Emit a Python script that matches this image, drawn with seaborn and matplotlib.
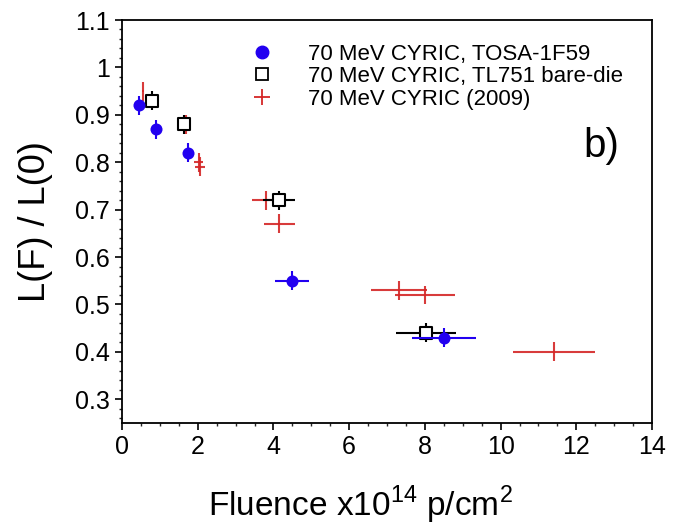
import matplotlib
matplotlib.use("Agg")
import matplotlib.pyplot as plt
from matplotlib.lines import Line2D
from matplotlib.ticker import MultipleLocator
import seaborn as sns
import pandas as pd

# TOSA-1F59 (blue circles)
tosa_x = [0.45, 0.90, 1.74, 4.49, 8.50]
tosa_y = [0.92, 0.87, 0.82, 0.55, 0.43]
tosa_xerr = [0.05, 0.05, 0.05, 0.44, 0.85]
tosa_yerr = [0.02, 0.02, 0.02, 0.02, 0.02]

# TL751 bare-die (open squares)
tl_x = [0.79, 1.64, 4.15, 8.03]
tl_y = [0.93, 0.88, 0.72, 0.44]
tl_xerr = [0.05, 0.05, 0.42, 0.80]
tl_yerr = [0.02, 0.02, 0.02, 0.02]

# 2009 (red crosses)
r09_x = [0.55, 1.69, 2.03, 2.06, 3.80, 4.15, 7.32, 8.00, 11.41]
r09_y = [0.95, 0.88, 0.80, 0.79, 0.72, 0.67, 0.53, 0.52, 0.40]
r09_xerr = [0.03, 0.10, 0.12, 0.12, 0.37, 0.41, 0.73, 0.80, 1.08]
r09_yerr = [0.02, 0.02, 0.02, 0.02, 0.02, 0.02, 0.02, 0.02, 0.02]

labels = ["70 MeV CYRIC, TOSA-1F59", "70 MeV CYRIC, TL751 bare-die", "70 MeV CYRIC (2009)"]

sns.set_theme(style="ticks")
plt.rcParams['font.family'] = ['Liberation Sans', 'DejaVu Sans']
plt.rcParams['mathtext.fontset'] = 'custom'
plt.rcParams['mathtext.rm'] = 'Liberation Sans'
plt.rcParams['text.color'] = 'black'
plt.rcParams['axes.labelcolor'] = 'black'

BLUE = "#2200f0"
RED = "#d42626"

fig = plt.figure(figsize=(6.82, 5.28), dpi=100)
ax = fig.add_axes([122/682, 1-423/528, (652-122)/682, (423-20)/528])

# red 2009 crosses
ax.errorbar(r09_x, r09_y, xerr=r09_xerr, yerr=r09_yerr, fmt='none',
            ecolor=RED, elinewidth=1.5, capsize=0, alpha=0.9, zorder=2)
# black squares
ax.errorbar(tl_x, tl_y, xerr=tl_xerr, yerr=tl_yerr, fmt='none',
            ecolor='black', elinewidth=1.5, capsize=0, zorder=3)
df_tl = pd.DataFrame({"x": tl_x, "y": tl_y})
sns.scatterplot(data=df_tl, x="x", y="y", marker='s', s=70, facecolor='white',
                edgecolor='black', linewidth=1.5, ax=ax, zorder=4, legend=False)
# blue circles
ax.errorbar(tosa_x, tosa_y, xerr=tosa_xerr, yerr=tosa_yerr, fmt='none',
            ecolor=BLUE, elinewidth=1.5, capsize=0, zorder=5)
df_tosa = pd.DataFrame({"x": tosa_x, "y": tosa_y})
sns.scatterplot(data=df_tosa, x="x", y="y", marker='o', s=75, color=BLUE,
                edgecolor=BLUE, linewidth=0, ax=ax, zorder=6, legend=False)

ax.set_xlim(0, 14)
ax.set_ylim(0.25, 1.1)
ax.xaxis.set_major_locator(MultipleLocator(2))
ax.xaxis.set_minor_locator(MultipleLocator(0.5))
ax.yaxis.set_minor_locator(MultipleLocator(0.02))
ax.set_yticks([0.3, 0.4, 0.5, 0.6, 0.7, 0.8, 0.9, 1.0, 1.1])
ax.set_yticklabels(["0.3", "0.4", "0.5", "0.6", "0.7", "0.8", "0.9", "1", "1.1"])

ax.tick_params(which='major', direction='out', length=5, width=1.2, labelsize=18,
               colors='black', pad=4, top=False, right=False)
ax.tick_params(which='minor', direction='out', length=2.5, width=1.0,
               top=False, right=False)
for sp in ax.spines.values():
    sp.set_visible(True)
    sp.set_linewidth(1.3)
    sp.set_color('black')

ax.set_xlabel(r"Fluence x10$^{14}$ p/cm$^{2}$", fontsize=24)
ax.xaxis.set_label_coords(0.449, -0.15)
ax.set_ylabel("L(F) / L(0)", fontsize=26)
ax.yaxis.set_label_coords(-0.13, 0.5)
ax.text(12.2, 0.835, "b)", fontsize=29, ha='left', va='center')

handles = [
    Line2D([], [], marker='o', color=BLUE, linestyle='none', markersize=9),
    Line2D([], [], marker='s', markerfacecolor='white', markeredgecolor='black',
           markeredgewidth=1.3, linestyle='none', markersize=9),
    Line2D([], [], marker='+', color=RED, linestyle='none', markersize=11, markeredgewidth=1.3),
]
ax.legend(handles, labels, loc='upper left', bbox_to_anchor=(0.203, 0.98), frameon=False,
          fontsize=16, handletextpad=1.33, labelspacing=0.07, handlelength=1.5,
          borderaxespad=0.3)

fig.savefig("out.png", dpi=100)
